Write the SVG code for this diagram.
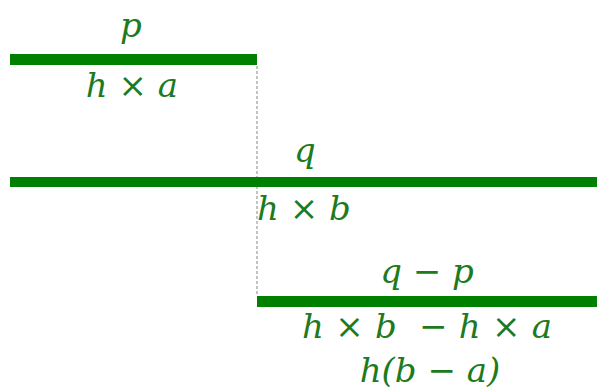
<svg xmlns="http://www.w3.org/2000/svg" width="597" height="392" viewBox="0 0 597 392">
<style>
.bar{fill:#008000}
.t{font-family:"DejaVu Serif","Liberation Serif",serif;font-style:italic;font-size:34px;fill:#1d7a1d;text-anchor:middle;white-space:pre}
.guide{stroke:#b0b0b0;stroke-width:1.5;stroke-dasharray:3 2;fill:none}
</style>
<g id="connectors">
<line class="guide" x1="257" y1="66" x2="257" y2="296"/>
</g>
<g id="bar-p">
<rect class="bar" x="10" y="54" width="247" height="11"/>
<text class="t" x="131" y="37">p</text>
<text class="t" x="132" y="97">h × a</text>
</g>
<g id="bar-q">
<rect class="bar" x="10" y="177" width="587" height="10"/>
<text class="t" x="305" y="162">q</text>
<text class="t" x="304" y="220">h × b</text>
</g>
<g id="bar-diff">
<rect class="bar" x="257" y="296" width="340" height="11"/>
<text class="t" x="427" y="283">q − p</text>
<text class="t" x="427" y="338" textLength="250" lengthAdjust="spacing">h × b  − h × a</text>
<text class="t" x="430" y="382">h(b − a)</text>
</g>
</svg>
